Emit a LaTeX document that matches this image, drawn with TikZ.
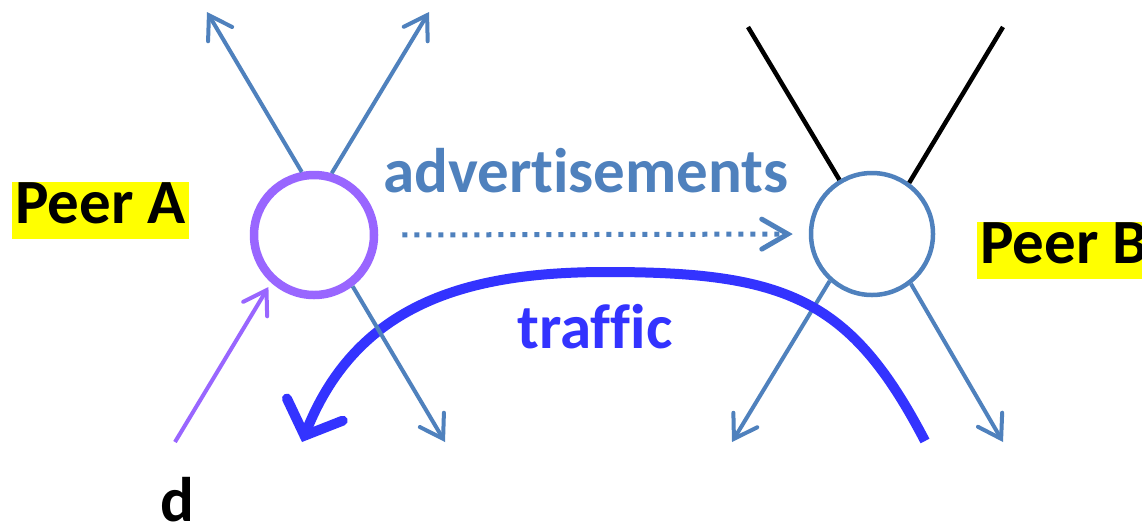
\documentclass[tikz,border=0pt]{standalone}
\usepackage{fontspec}
\setmainfont{Carlito}[Ligatures=NoCommon]
\usetikzlibrary{arrows.meta}
\definecolor{steel}{HTML}{4F81BD}
\definecolor{lilac}{HTML}{9966FF}
\definecolor{traf}{HTML}{3333FF}
\definecolor{hl}{HTML}{FFFF00}
\tikzset{
  big/.style={font=\fontsize{63}{70}\selectfont\bfseries, inner sep=0pt},
  peerlabel/.style={big, fill=hl, inner xsep=3pt, inner ysep=0pt, text depth=16pt, anchor=base west},
  thinhead/.style={-{Straight Barb[length=22pt,width=28pt,line cap=round]}},
  ray/.style={steel, line width=4pt, thinhead},
  blackray/.style={black, line width=4.5pt},
}
\begin{document}
\begin{tikzpicture}[x=1pt,y=-1pt]
\clip (0,0) rectangle (1142,523);
\fill[white] (0,0) rectangle (1142,523);

% peers
\node[circle, draw=lilac, line width=8.5pt, minimum size=120pt, inner sep=0pt] (A) at (314,235) {};
\node[circle, draw=steel, line width=4.5pt, minimum size=122pt, inner sep=0pt] (B) at (872,234) {};

% free ends
\coordinate (a1) at (207,12);
\coordinate (a2) at (429,12);
\coordinate (a3) at (445,442);
\coordinate (dd) at (175,442);
\coordinate (b1) at (748,27);
\coordinate (b2) at (1003,27);
\coordinate (b3) at (732,442);
\coordinate (b4) at (1003,442);
\coordinate (t0) at (925,441);
\coordinate (tm) at (607,272);
\coordinate (t1) at (302,442);

% Peer B rays
\draw[blackray] (B.121) -- (b1);
\draw[blackray] (B.54) -- (b2);
\draw[ray] (B.-132) -- (b3);
\draw[ray] (B.-52) -- (b4);

% traffic
\draw[traf, line width=10pt, -{Straight Barb[length=28pt,width=60pt,line cap=round]}]
  (t0) .. controls (851,299) and (787,272) .. (tm)
       .. controls (477,272) and (359,298) .. (t1);

% Peer A rays
\draw[ray] (A.101) -- (a1);
\draw[ray] (A.74) -- (a2);
\draw[ray] (A.-53) -- (a3);
\draw[lilac, line width=4pt, thinhead, shorten >=5pt] (dd) -- (A.-132.5);

% advertisements
\draw[steel, line width=5pt, dash pattern=on 5pt off 7pt,
  -{Straight Barb[length=26pt,width=30pt,line cap=round]},
  shorten <=24pt, shorten >=16pt] (A.east) -- (B.west);

% labels
\node[peerlabel] (pa) at (12,223) {Peer A};
\node[peerlabel] (pb) at (977,263) {Peer B};
\node[big, steel, anchor=base] (adv) at (586,192) {advertisements};
\node[big, traf, anchor=base] (tr) at (595,348) {traffic};
\node[big, anchor=base] (d) at (177,521) {d};
\end{tikzpicture}
\end{document}
